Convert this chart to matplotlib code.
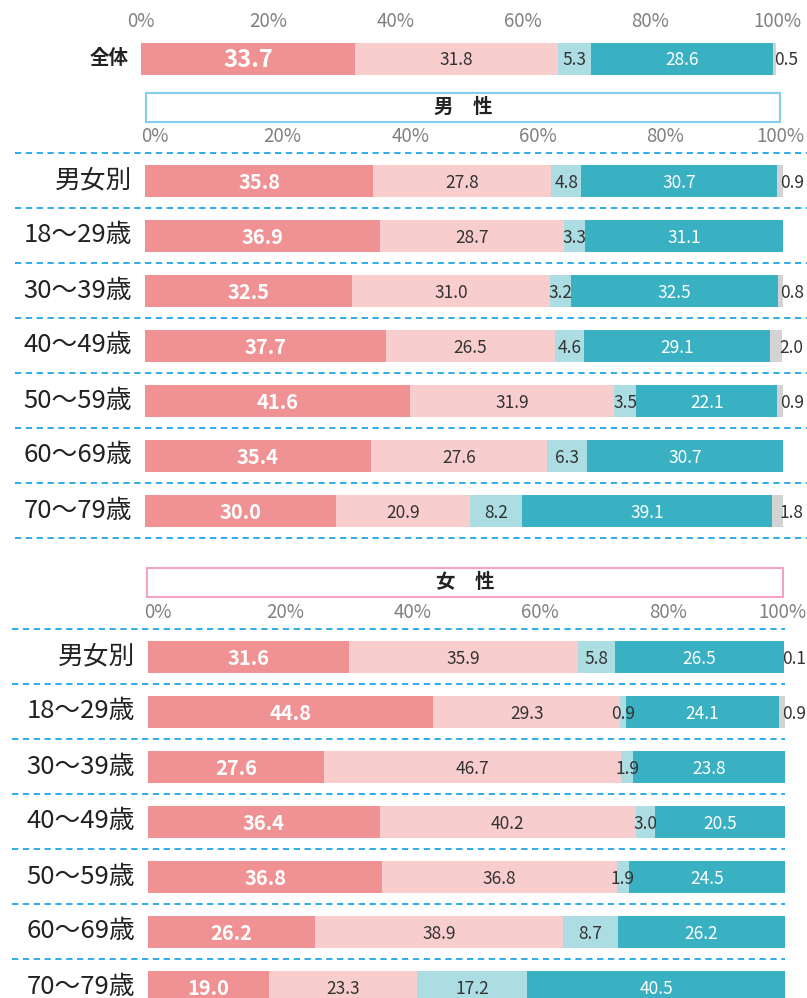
"""Stacked 100% bars: overall, male and female by age group"""
import matplotlib.pyplot as plt
from matplotlib.patches import Rectangle
from matplotlib.transforms import ScaledTranslation

plt.rcParams["font.family"] = ["Noto Sans CJK JP", "DejaVu Sans"]

W, H = 807, 998

COLORS = ["#f09193", "#f8cdcd", "#acdde3", "#3ab1c2", "#d3d3d3"]
TEXT_COLORS = ["white", "#333333", "#333333", "white", "#333333"]
TICKS = [0, 20, 40, 60, 80, 100]
TICK_LABELS = ["0%", "20%", "40%", "60%", "80%", "100%"]

total_label = ["全体"]
total_values = [[33.7, 31.8, 5.3, 28.6, 0.5]]

age_labels = ["男女別", "18〜29歳", "30〜39歳", "40〜49歳",
              "50〜59歳", "60〜69歳", "70〜79歳"]

male_values = [
    [35.8, 27.8, 4.8, 30.7, 0.9],
    [36.9, 28.7, 3.3, 31.1, 0.0],
    [32.5, 31.0, 3.2, 32.5, 0.8],
    [37.7, 26.5, 4.6, 29.1, 2.0],
    [41.6, 31.9, 3.5, 22.1, 0.9],
    [35.4, 27.6, 6.3, 30.7, 0.0],
    [30.0, 20.9, 8.2, 39.1, 1.8],
]

female_values = [
    [31.6, 35.9, 5.8, 26.5, 0.1],
    [44.8, 29.3, 0.9, 24.1, 0.9],
    [27.6, 46.7, 1.9, 23.8, 0.0],
    [36.4, 40.2, 3.0, 20.5, 0.0],
    [36.8, 36.8, 1.9, 24.5, 0.0],
    [26.2, 38.9, 8.7, 26.2, 0.0],
    [19.0, 23.3, 17.2, 40.5, 0.0],
]


def px_axes(fig, x0, x1, y0, y1):
    """Add axes given pixel box (top-left origin)"""
    return fig.add_axes([x0 / W, 1 - y1 / H, (x1 - x0) / W, (y1 - y0) / H])


def draw_block(fig, ax, labels, values, height, label_kw, big):
    """Draw stacked bars with values, ticks on top"""
    n = len(labels)
    for i, row in enumerate(values):
        left = 0
        for j, v in enumerate(row):
            if v > 0:
                ax.barh(i, v, left=left, height=height, color=COLORS[j],
                        edgecolor="none")
                if j == 4:
                    ax.text(99.5, i + 0.04, f"{v:.1f}", ha="left", va="center",
                            fontsize=12.5, color=TEXT_COLORS[j], clip_on=False)
                else:
                    bold = j == 0
                    fs = (17 if big else 14.5) if bold else 12.5
                    ax.text(left + v / 2, i + 0.04, f"{v:.1f}", ha="center",
                            va="center", fontsize=fs, color=TEXT_COLORS[j],
                            fontweight="bold" if bold else "normal")
            left += v
        ax.text(-0.02, i, labels[i], transform=ax.get_yaxis_transform(),
                ha="right", va="center", **label_kw)
    ax.set_xlim(0, 100)
    ax.set_ylim(n - 0.5, -0.5)
    ax.set_yticks([])
    ax.set_xticks(TICKS)
    ax.set_xticklabels(TICK_LABELS, fontsize=13.5, color="#808080")
    ax.xaxis.tick_top()
    ax.tick_params(axis="x", length=0, pad=4)
    labs = ax.get_xticklabels()
    for k, lab in enumerate(labs):
        dx = -0.03 if k == len(labs) - 1 else 0.1
        shift = ScaledTranslation(dx, 0, fig.dpi_scale_trans)
        lab.set_transform(lab.get_transform() + shift)
    for sp in ax.spines.values():
        sp.set_visible(False)
    ax.patch.set_alpha(0)


def dashed_lines(ax, n, x0_px, x1_px, ax_x0, ax_x1):
    """Dashed separators between rows, extending past the axes"""
    w = ax_x1 - ax_x0
    a = (x0_px - ax_x0) / w
    b = (x1_px - ax_x0) / w
    for k in range(n + 1):
        ax.axhline(k - 0.5, xmin=a, xmax=b, color="#1ea6e9", lw=1.3,
                   ls=(0, (3.5, 2.5)), clip_on=False)


def header_box(fig, x0, x1, y0, y1, text, edge):
    rect = Rectangle((x0 / W, 1 - y1 / H), (x1 - x0) / W, (y1 - y0) / H,
                     transform=fig.transFigure, facecolor="white",
                     edgecolor=edge, lw=1.5)
    fig.add_artist(rect)
    fig.text((x0 + x1) / 2 / W, 1 - (y0 + y1) / 2 / H, text, ha="center",
             va="center", fontsize=14, fontweight="bold", color="#222222")


def main():
    fig = plt.figure(figsize=(W / 100, H / 100), dpi=100)

    # overall
    ax0 = px_axes(fig, 141, 777, 43, 75)
    draw_block(fig, ax0, total_label, total_values, 1.0,
               dict(fontsize=14, fontweight="bold", color="#222222"), True)
    ax0.tick_params(axis="x", pad=8)

    # male
    header_box(fig, 146, 780, 93, 122, "男　性", "#85cdee")
    ax1 = px_axes(fig, 145, 783, 153, 538)
    draw_block(fig, ax1, age_labels, male_values, 32 / 55,
               dict(fontsize=18.5, color="#222222"), False)
    dashed_lines(ax1, len(age_labels), 15, 807, 145, 783)

    # female
    header_box(fig, 147, 783, 568, 597, "女　性", "#f4a3c6")
    ax2 = px_axes(fig, 148, 785, 629, 1014)
    draw_block(fig, ax2, age_labels, female_values, 32 / 55,
               dict(fontsize=18.5, color="#222222"), False)
    dashed_lines(ax2, len(age_labels), 12, 785, 148, 785)

    fig.savefig("out.png", dpi=100)


if __name__ == "__main__":
    main()
